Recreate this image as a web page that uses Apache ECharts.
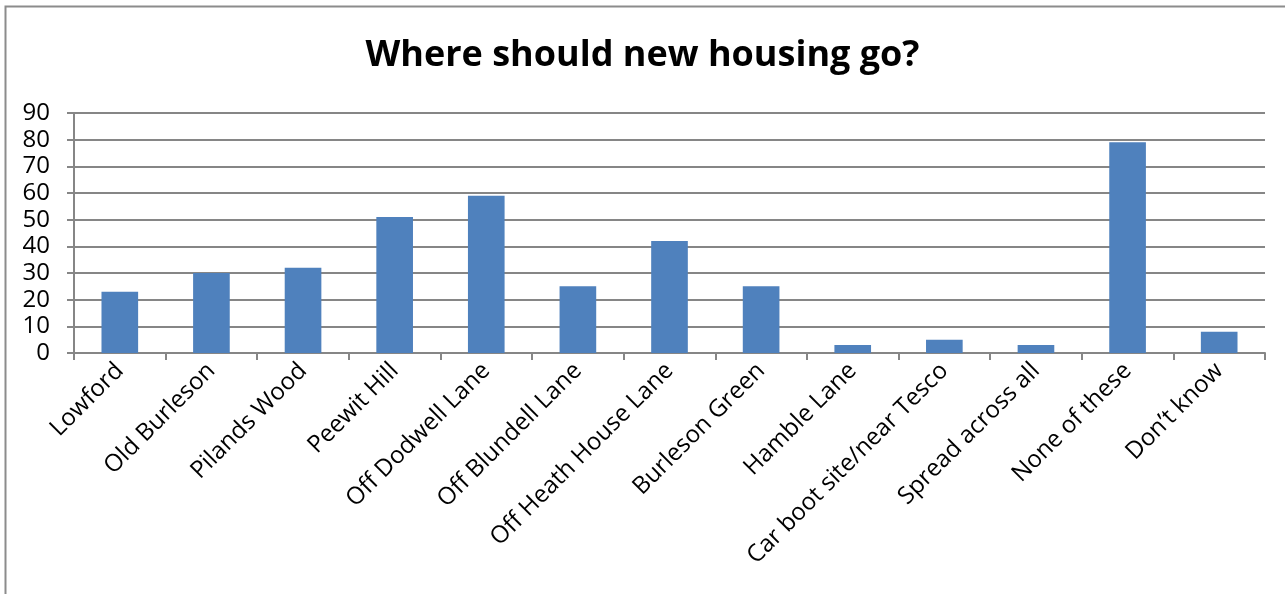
<!DOCTYPE html>
<html>
<head>
<meta charset="utf-8">
<script src="https://cdn.jsdelivr.net/npm/echarts@6/dist/echarts.min.js"></script>
<style>
html,body{margin:0;padding:0;background:#fff;}
#chart{width:1285px;height:594px;}
</style>
</head>
<body>
<div id="chart"></div>
<script>
const titleText = 'Where should new housing go?';
const categories = ['Lowford','Old Burleson','Pilands Wood','Peewit Hill','Off Dodwell Lane','Off Blundell Lane','Off Heath House Lane','Burleson Green','Hamble Lane','Car boot site/near Tesco','Spread across all','None of these','Don\u2019t know'];
const values = [23,30,32,51,59,25,42,25,3,5,3,79,8];
const yTicks = {min:0, max:90, interval:10};

const chart = echarts.init(document.getElementById('chart'), null, {renderer:'canvas'});
const fontFam = '"Open Sans", "Noto Sans", sans-serif';
chart.setOption({
  animation:false,
  backgroundColor:'#fff',
  title:{
    text:titleText,
    left:'center', top:33,
    textStyle:{fontFamily:fontFam, fontWeight:'bold', fontSize:36, color:'#000'}
  },
  graphic:[{
    type:'rect', shape:{x:5.5,y:6.5,width:1300,height:600},
    style:{fill:null, stroke:'#8c8c8c', lineWidth:2}, silent:true
  }],
  grid:{left:74, right:20, top:113, bottom:241, containLabel:false},
  xAxis:{
    type:'category', data:categories,
    axisLine:{lineStyle:{color:'#868686', width:2}},
    axisTick:{show:true, alignWithLabel:false, length:7, lineStyle:{color:'#868686', width:2}},
    axisLabel:{rotate:45, interval:0, fontFamily:fontFam, fontSize:24, color:'#000', margin:14}
  },
  yAxis:{
    type:'value', min:yTicks.min, max:yTicks.max, interval:yTicks.interval,
    axisLine:{show:true, lineStyle:{color:'#868686', width:2}},
    axisTick:{show:true, length:7, lineStyle:{color:'#868686', width:2}},
    splitLine:{show:true, lineStyle:{color:'#868686', width:2}},
    axisLabel:{fontFamily:fontFam, fontSize:24, color:'#000', margin:24}
  },
  series:[{
    type:'bar', data:values, barWidth:'40%',
    itemStyle:{color:'#4f81bd'}
  }]
});
</script>
</body>
</html>
